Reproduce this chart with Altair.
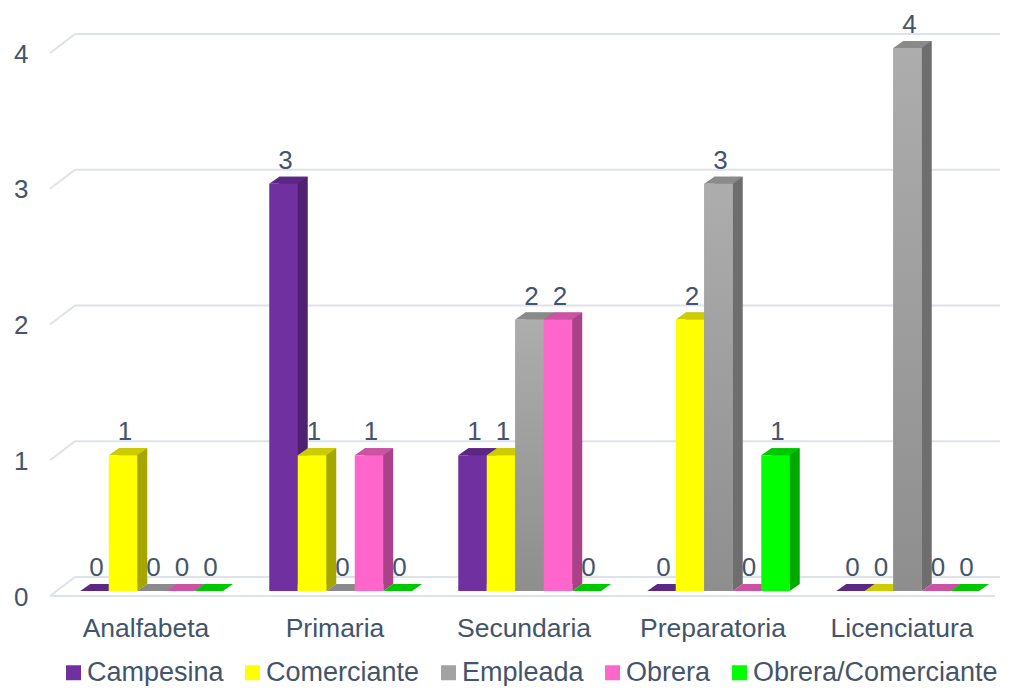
import altair as alt
import pandas as pd

categories = ["Analfabeta", "Primaria", "Secundaria", "Preparatoria", "Licenciatura"]
series = ["Campesina", "Comerciante", "Empleada", "Obrera", "Obrera/Comerciante"]

campesina = [0, 3, 1, 0, 0]
comerciante = [1, 1, 1, 2, 0]
empleada = [0, 0, 2, 3, 4]
obrera = [0, 1, 2, 0, 0]
obrera_comerciante = [0, 0, 0, 1, 0]
series_values = [campesina, comerciante, empleada, obrera, obrera_comerciante]

front_colors = ["#7030A0", "#FFFF00", "#A3A3A3", "#FF66CC", "#00FF00"]
side_colors = ["#4E2270", "#A6A600", "#6E6E6E", "#A8438A", "#00A800"]
top_colors = ["#5C2785", "#CCCC00", "#8A8A8A", "#CC52A3", "#00C800"]

y_ticks = [0, 1, 2, 3, 4]

TEXT = "#44546A"
GRID = "#DEE2E9"
FONT = "Liberation Sans"
BW = 0.1508  # bar width as a fraction of a category step

rows = []
for si, s in enumerate(series):
    for ci, c in enumerate(categories):
        rows.append(dict(category=c, series=s, value=series_values[si][ci],
                         ci=ci, si=si, side=side_colors[si], top=top_colors[si]))
df = pd.DataFrame(rows)
ticks_df = pd.DataFrame({"tick": y_ticks})
floor_df = pd.DataFrame({"tick": [0]})

xscale = alt.Scale(domain=[-0.5, 4.5], nice=False, zero=False)
yscale = alt.Scale(domain=[0, 4], nice=False)

label_expr = "[" + ",".join("'" + c + "'" for c in categories) + "][datum.value]"

xaxis = alt.Axis(values=list(range(len(categories))), labelExpr=label_expr, title=None,
                 grid=False, domain=False, ticks=False, labelFlush=False,
                 labelOverlap=False, labelFontSize=26.5, labelFont=FONT,
                 labelColor=TEXT, labelPadding=24, labelOffset=-6)
yaxis = alt.Axis(values=y_ticks, title=None, grid=False, domain=False, ticks=False,
                 labelFontSize=26, labelFont=FONT, labelColor=TEXT,
                 labelPadding=29, labelOffset=6, format="d")

base = alt.Chart(df).transform_calculate(
    xc=f"datum.ci + (datum.si - 2) * {BW}",
    x0=f"datum.ci + (datum.si - 2.5) * {BW}",
    x1=f"datum.ci + (datum.si - 1.5) * {BW}",
)

# back-wall gridlines
grid = alt.Chart(ticks_df).mark_rule(yOffset=-14, color=GRID, strokeWidth=2).encode(
    x=alt.value(18), x2=alt.value(943),
    y=alt.Y("tick:Q", scale=yscale, axis=yaxis),
)
diag = alt.Chart(ticks_df).mark_rule(yOffset=5, y2Offset=-14, color=GRID, strokeWidth=2).encode(
    x=alt.value(-7), x2=alt.value(18),
    y=alt.Y("tick:Q", scale=yscale, axis=yaxis), y2="tick:Q",
)
floor = alt.Chart(floor_df).mark_rule(yOffset=5, color=GRID, strokeWidth=2).encode(
    x=alt.value(-7), x2=alt.value(938),
    y=alt.Y("tick:Q", scale=yscale, axis=yaxis),
)

side = base.mark_bar(xOffset=10, x2Offset=10, yOffset=-7, y2Offset=-7).encode(
    x=alt.X("x0:Q", scale=xscale, axis=xaxis), x2="x1:Q",
    y=alt.Y("value:Q", scale=yscale, axis=yaxis), y2=alt.datum(0),
    fill=alt.Fill("side:N", scale=None),
)

tri_path = "M 0.5876 0 L 0.5876 -0.2887 L 1 -0.2887 Z"
top_path = "M -0.5876 0 L 0.5876 0 L 1 -0.2887 L -0.1753 -0.2887 Z"

tri = base.mark_point(shape=tri_path, size=2352, filled=True, opacity=1, strokeWidth=0).encode(
    x=alt.X("xc:Q", scale=xscale, axis=xaxis),
    y=alt.datum(0),
    fill=alt.Fill("side:N", scale=None),
)
top = base.mark_point(shape=top_path, size=2352, filled=True, opacity=1, strokeWidth=0).encode(
    x=alt.X("xc:Q", scale=xscale, axis=xaxis),
    y=alt.Y("value:Q", scale=yscale, axis=yaxis),
    fill=alt.Fill("top:N", scale=None),
)

front = base.mark_bar().encode(
    x=alt.X("x0:Q", scale=xscale, axis=xaxis),
    x2="x1:Q",
    y=alt.Y("value:Q", scale=yscale, axis=yaxis), y2=alt.datum(0),
    color=alt.Color("series:N", sort=series,
                    scale=alt.Scale(domain=series, range=front_colors),
                    legend=alt.Legend(orient="none", legendX=3, legendY=611, direction="horizontal",
                                      columns=5, title=None, symbolType="square", symbolSize=225,
                                      symbolStrokeWidth=0, labelFontSize=27, labelFont=FONT,
                                      labelColor=TEXT, columnPadding=15, labelOffset=0,
                                      labelLimit=400, padding=0)),
)

# subtle vertical shading on the grey (Empleada) bars
gray_shade = base.transform_filter(alt.datum.series == series[2]).mark_bar(
    color=alt.Gradient(gradient="linear", x1=0, x2=0, y1=0, y2=1,
                       stops=[alt.GradientStop(color="#ADADAD", offset=0),
                              alt.GradientStop(color="#8E8E8E", offset=1)])
).encode(
    x=alt.X("x0:Q", scale=xscale, axis=xaxis),
    x2="x1:Q",
    y=alt.Y("value:Q", scale=yscale, axis=yaxis), y2=alt.datum(0),
)

labels = base.mark_text(dy=-15, dx=2, baseline="alphabetic", fontSize=26, font=FONT, color=TEXT).encode(
    x=alt.X("xc:Q", scale=xscale, axis=xaxis),
    y=alt.Y("value:Q", scale=yscale, axis=yaxis),
    text=alt.Text("value:Q", format="d"),
)

chart = alt.layer(grid, diag, floor, side, tri, top, front, gray_shade, labels).properties(
    width=945, height=543,
    autosize=alt.AutoSizeParams(type="none"),
    padding={"left": 49, "top": 40, "right": 0, "bottom": 95},
).configure_view(stroke=None)

chart.save("out.html", embed_options={"renderer": "svg", "actions": False})
